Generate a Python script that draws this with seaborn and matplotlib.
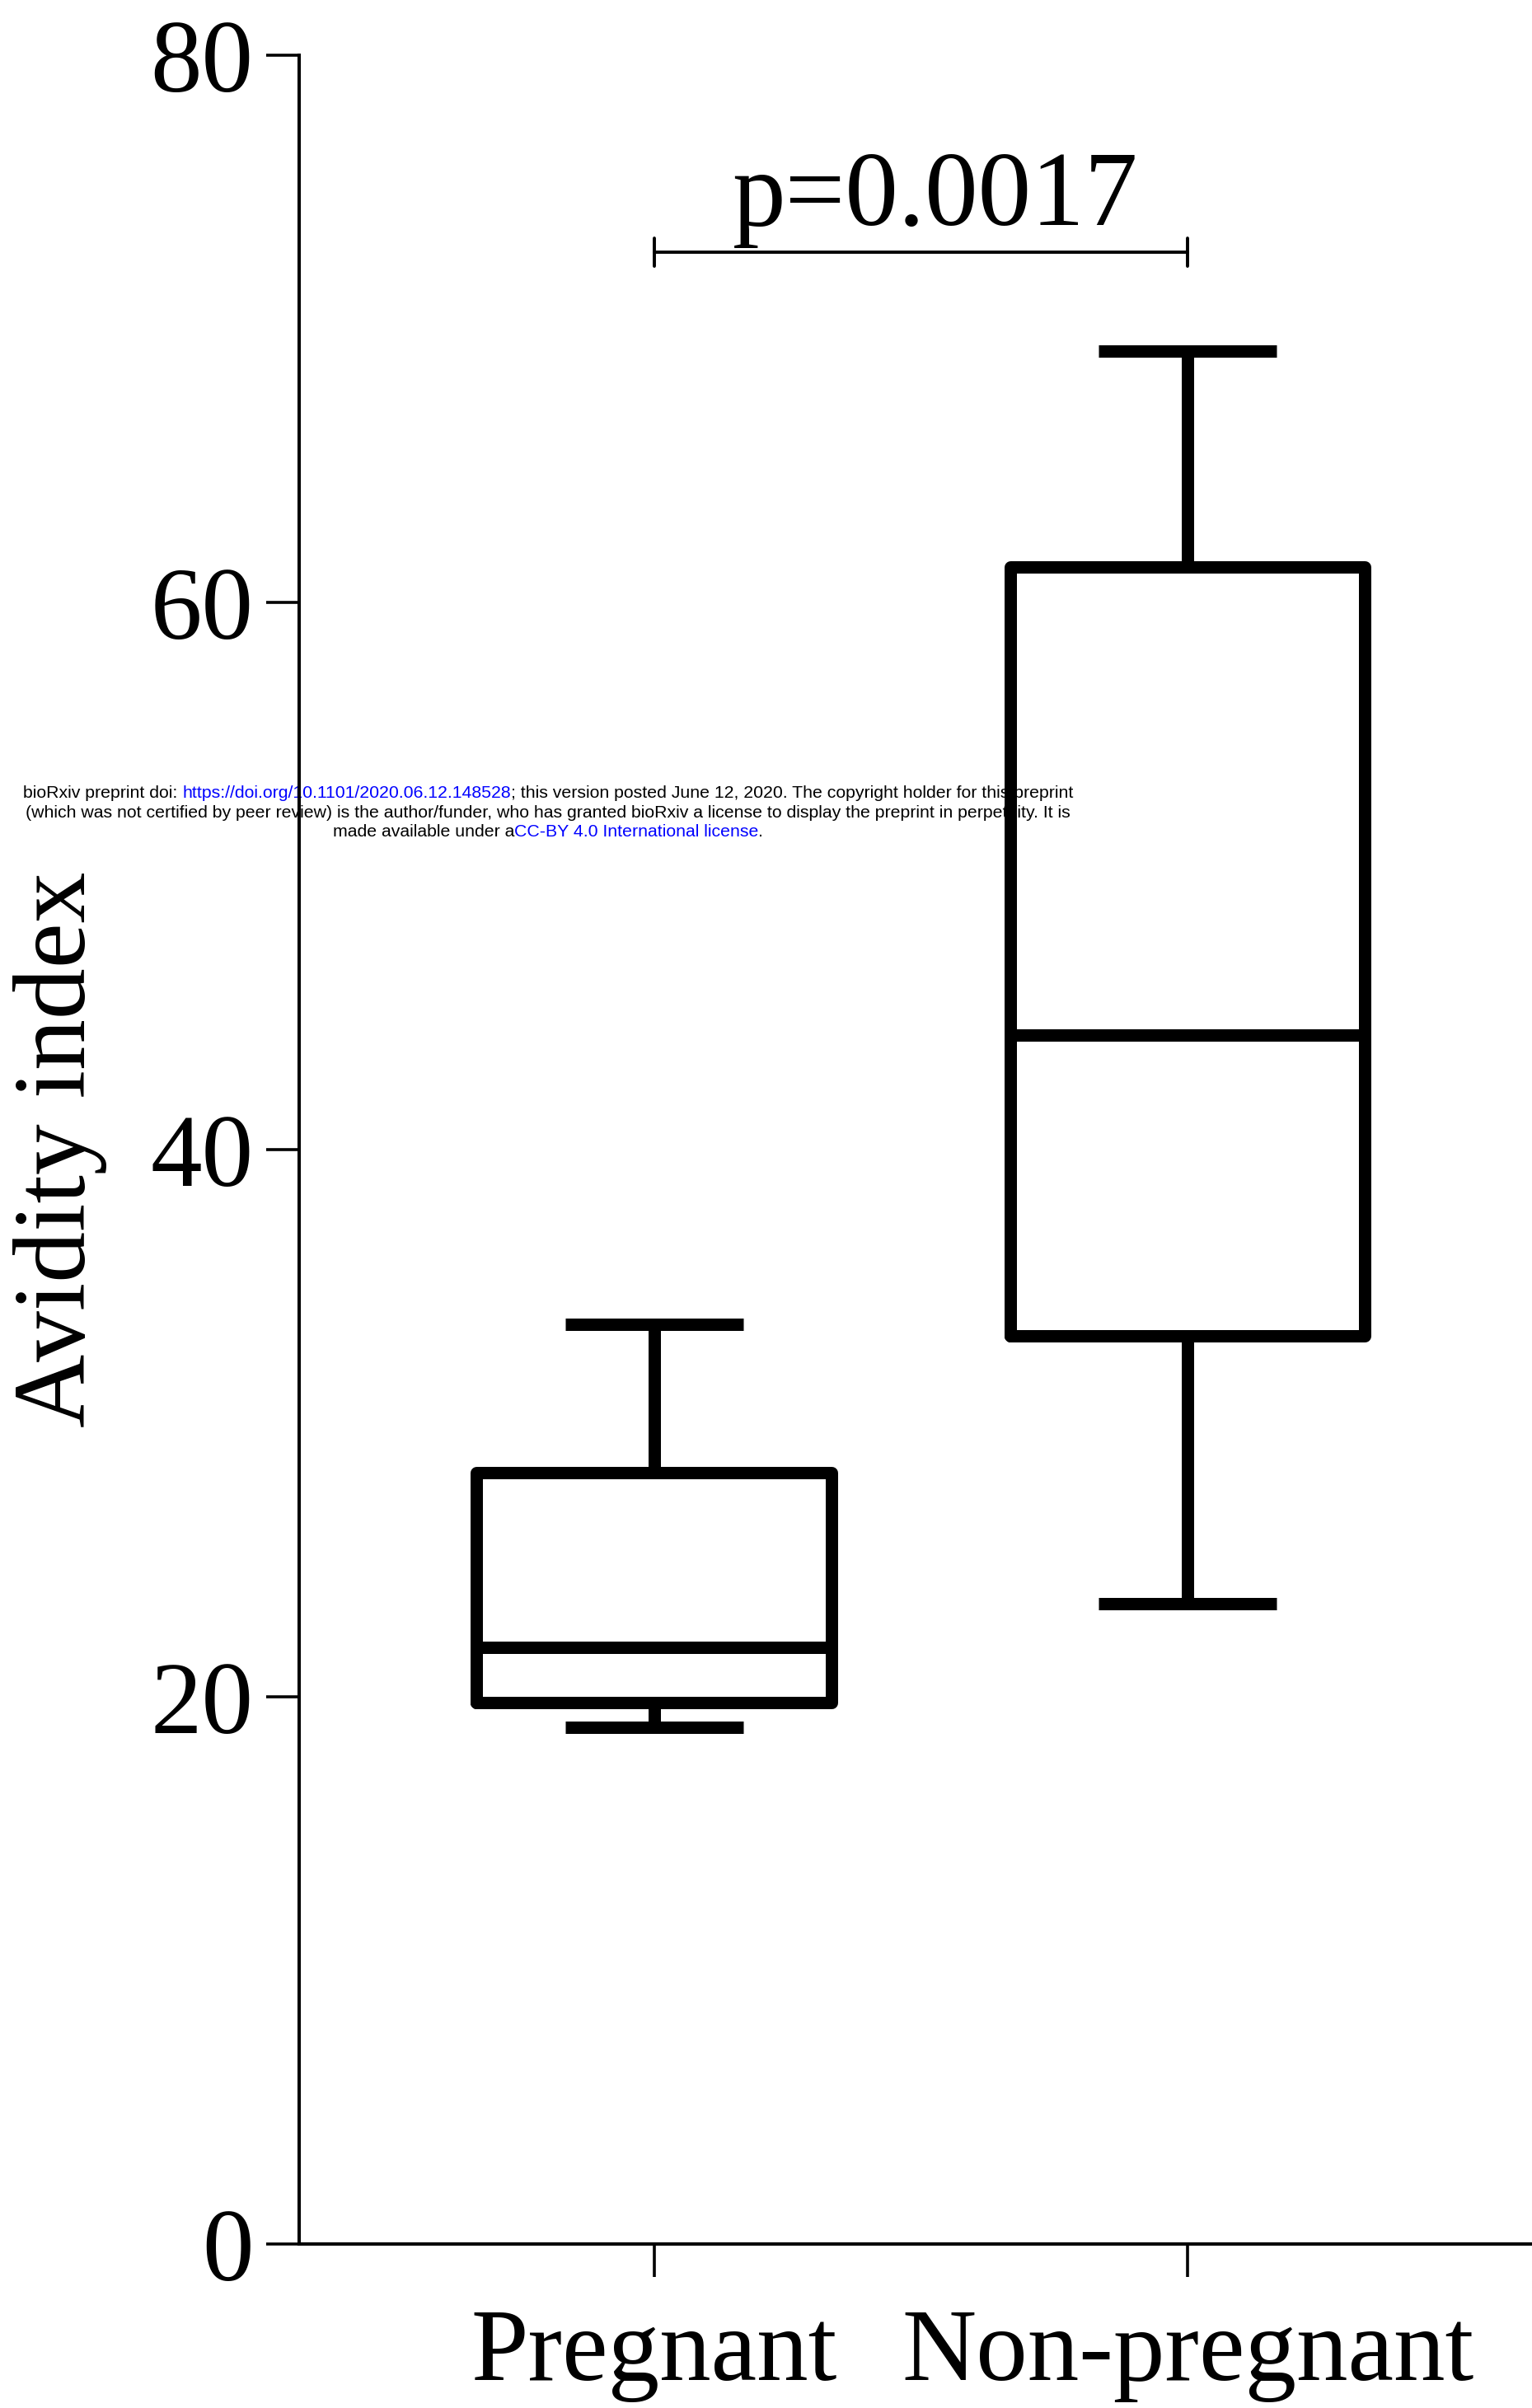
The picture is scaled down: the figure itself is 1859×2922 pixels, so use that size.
import numpy as np
import pandas as pd
import seaborn as sns
import matplotlib.pyplot as plt

# five-number summaries (min, Q1, median, Q3, max)
groups = ['Pregnant', 'Non-pregnant']
pregnant = [18.9, 19.8, 21.8, 28.2, 33.6]
non_pregnant = [23.4, 33.2, 44.2, 61.3, 69.2]
y_ticks = [0, 20, 40, 60, 80]
p_label = 'p=0.0017'

notice_lines = [
    [('bioRxiv preprint doi: ', 'black'),
     ('https://doi.org/10.1101/2020.06.12.148528', '#0000ff'),
     ('; this version posted June 12, 2020. The copyright holder for this preprint', 'black')],
    [('(which was not certified by peer review) is the author/funder, who has granted bioRxiv '
      'a license to display the preprint in perpetuity. It is', 'black')],
    [('made available under a', 'black'),
     ('CC-BY 4.0 International license', '#0000ff'),
     ('.', 'black')],
]


def main():
    sns.set_style('ticks')
    plt.rcParams['font.family'] = ['Liberation Serif', 'DejaVu Serif']
    plt.rcParams['text.color'] = 'black'
    plt.rcParams['axes.labelcolor'] = 'black'

    W, H = 1859, 2922
    fig = plt.figure(figsize=(W / 100, H / 100), dpi=100)
    ax = fig.add_axes([363 / W, 1 - 2723 / H, 1 - 363 / W, (2723 - 67) / H])
    ax.patch.set_alpha(0)
    ax.set_zorder(2)

    df = pd.DataFrame({
        'group': np.repeat(groups, len(pregnant)),
        'value': pregnant + non_pregnant,
    })
    sns.boxplot(data=df, x='group', y='value', order=groups, whis=(0, 100),
                width=0.666, fill=False, color='black', linewidth=10.8,
                showfliers=False, capprops={'solid_capstyle': 'butt'}, ax=ax)

    ax.set_xlim(-0.666, 1.646)
    ax.set_ylim(0, 80)
    ax.set_yticks(y_ticks)
    ax.set_xlabel('')
    ax.set_ylabel('Avidity index', fontsize=89, color='black')
    ax.yaxis.set_label_coords(-0.156, 0.5)
    sns.despine(ax=ax)
    for side in ['left', 'bottom']:
        ax.spines[side].set_linewidth(2.9)
        ax.spines[side].set_color('black')
    ax.tick_params(axis='both', length=29, width=2.6, color='black',
                   labelsize=90, labelcolor='black')
    ax.tick_params(axis='y', pad=11)
    ax.tick_params(axis='x', pad=27)

    # significance bracket
    yb = 72.8
    ax.plot([0, 1], [yb, yb], color='black', lw=2.8, clip_on=False)
    for xe in [0, 1]:
        ax.plot([xe, xe], [yb - 0.5, yb + 0.5], color='black', lw=2.8, clip_on=False)
    ax.text(0.527, 73.8, p_label, ha='center', va='baseline', fontsize=93, color='black')

    # preprint notice behind the plot
    renderer = fig.canvas.get_renderer()
    fs = 15.3
    probe = fig.text(0, 0, 'a a', fontsize=fs, family='Liberation Sans')
    probe2 = fig.text(0, 0, 'aa', fontsize=fs, family='Liberation Sans')
    space_w = probe.get_window_extent(renderer).width - probe2.get_window_extent(renderer).width
    probe.remove()
    probe2.remove()
    baselines = [968, 991.5, 1015]
    for parts, base in zip(notice_lines, baselines):
        texts, widths = [], []
        for s, c in parts:
            t = fig.text(0, 0, s.rstrip(), color=c, fontsize=fs, family='Liberation Sans',
                         ha='left', va='baseline', zorder=0)
            w = t.get_window_extent(renderer).width + space_w * (len(s) - len(s.rstrip()))
            texts.append(t)
            widths.append(w)
        x = 665 - sum(widths) / 2
        for t, w in zip(texts, widths):
            t.set_position((x / W, 1 - base / H))
            x += w

    fig.savefig('out.png', dpi=100, facecolor='white')


if __name__ == '__main__':
    main()
